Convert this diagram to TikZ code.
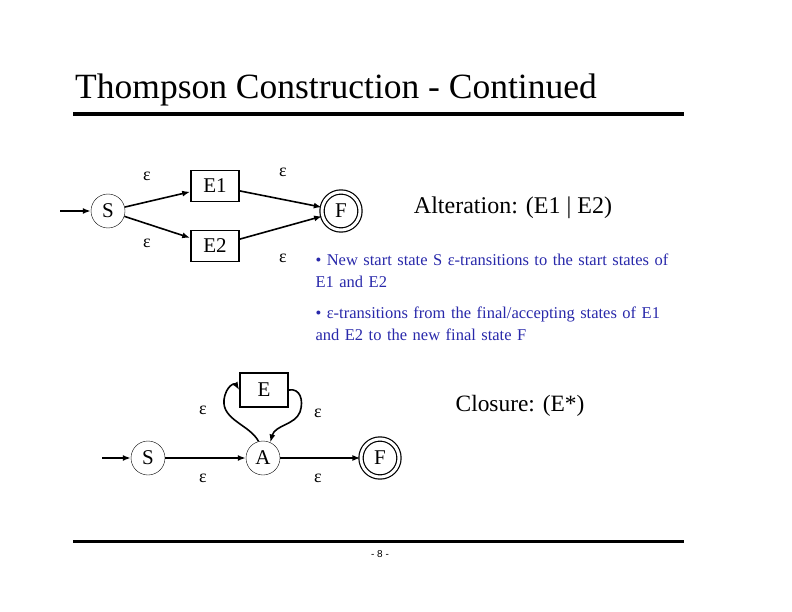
\documentclass[tikz,border=0pt]{standalone}
\usepackage{fontspec}
\setmainfont{Liberation Serif}
\setsansfont{Liberation Sans}
\usetikzlibrary{arrows.meta,positioning}
\definecolor{bulletblue}{RGB}{40,40,170}
\tikzset{
    % State styles
    state node/.style={
        circle,
        draw,
        thin,
        minimum size=34pt,
        inner sep=0pt,
        font=\fontsize{21}{23}\selectfont
    },
    final node/.style={
        state node,
        double,
        double distance=3pt,
        line width=1.2pt,
        minimum size=38pt
    },
    block node/.style={
        draw,
        line width=1.6pt,
        rectangle,
        minimum width=48pt,
        minimum height=31pt,
        font=\fontsize{21}{23}\selectfont
    },
    % Arrow styles
    eps arrow/.style={
        -{Latex[length=8pt,width=6pt]},
        line width=1.6pt
    },
    eps label/.style={
        font=\fontsize{18}{20}\selectfont
    },
    bullet text/.style={
        text=bulletblue,
        align=left,
        anchor=north west,
        text width=366pt,
        font=\fontsize{16.5}{22}\selectfont
    }
}
\begin{document}
\begin{tikzpicture}[x=1pt,y=-1pt]
    \useasboundingbox (0,0) rectangle (792,612);

    \node[anchor=west, inner sep=0pt, font=\fontsize{35.5}{38}\selectfont] (title) at (75,90) {Thompson Construction - Continued};
    \coordinate (topl) at (73,114);
    \coordinate (topr) at (684,114);
    \draw[line width=4pt] (topl) -- (topr);

    % alternation
    \node[state node] (s1) at (108,211) {S};
    \node[block node] (e1) at (215,186) {E1};
    \node[block node] (e2) at (215,246) {E2};
    \node[final node] (f1) at (341,211) {F};
    \coordinate (in1) at (60,211);

    \draw[eps arrow] (in1) -- (s1);
    \draw[eps arrow] (s1) -- (e1);
    \draw[eps arrow] (s1) -- (e2);
    \draw[eps arrow] (e1) -- (f1);
    \draw[eps arrow] (e2) -- (f1);

    \node[eps label] (l1) at (147,176) {ε};
    \node[eps label] (l2) at (147,243) {ε};
    \node[eps label] (l3) at (283,172) {ε};
    \node[eps label] (l4) at (283,258) {ε};

    \node[font=\fontsize{24}{26}\selectfont] (alt) at (513,208) {Alteration: (E1 | E2)};
    \node[bullet text] (b1) at (312,250) {• New start state S ε-transitions to the start states of E1 and E2};
    \node[bullet text] (b2) at (312,303) {• ε-transitions from the final/accepting states of E1 and E2 to the new final state F};

    % closure
    \node[state node] (s2) at (148,458) {S};
    \node[state node] (a) at (263,458) {A};
    \node[block node, minimum height=34pt] (e) at (264,390) {E};
    \node[final node] (f2) at (380,458) {F};
    \coordinate (in2) at (102,458);

    \draw[eps arrow] (in2) -- (s2);
    \draw[eps arrow] (s2) -- (a);
    \draw[eps arrow] (a) -- (f2);
    \draw[eps arrow] (a.105) .. controls (250,425) and (222,420) .. (224,400) .. controls (226,385) and (235,383) .. (e.west);
    \draw[eps arrow] (e.east) .. controls (300,388) and (304,400) .. (300,412) .. controls (295,425) and (275,425) .. (a.65);

    \node[eps label] (l5) at (203,410) {ε};
    \node[eps label] (l6) at (203,478) {ε};
    \node[eps label] (l7) at (318,413) {ε};
    \node[eps label] (l8) at (318,478) {ε};

    \node[font=\fontsize{23.4}{26}\selectfont] (clo) at (520,406) {Closure: (E*)};

    \coordinate (botl) at (73,541);
    \coordinate (botr) at (684,541);
    \draw[line width=3pt] (botl) -- (botr);
    \node[font=\sffamily\fontsize{10}{12}\selectfont] (page) at (380,554) {- 8 -};
\end{tikzpicture}
\end{document}
